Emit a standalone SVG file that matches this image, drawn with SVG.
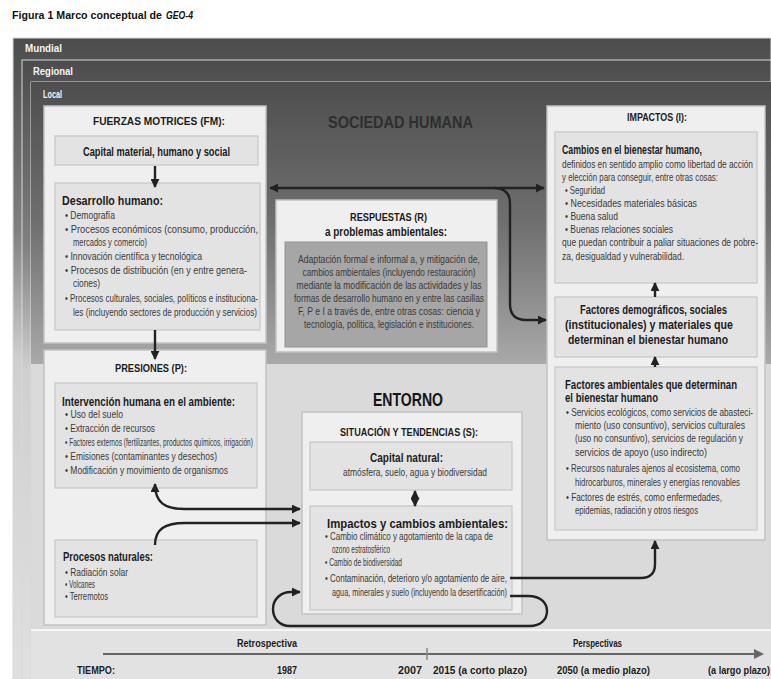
<svg xmlns="http://www.w3.org/2000/svg" width="771" height="679" viewBox="0 0 771 679">
<style>
.t{font-family:"Liberation Sans Narrow","Liberation Sans",Arial,sans-serif;font-size:11px;fill:#3a3a3a}
.b{font-weight:bold;fill:#1c1c1c;font-size:12px}
.w{font-family:"Liberation Sans",Arial,sans-serif;font-weight:bold;font-size:10px;fill:#f4f4f4}
.ob{fill:#efefef;stroke:#c2c2c2;stroke-width:1.5}
.ib{fill:#e3e3e3;stroke:#c6c6c6;stroke-width:1.2}
.rb{fill:#a6a6a6;stroke:#939393;stroke-width:1}
.cn{fill:none;stroke:#222;stroke-width:2.4}
</style>
<defs>
<linearGradient id="gl" x1="0" y1="0" x2="0" y2="1">
<stop offset="0" stop-color="#4c4c4c"/><stop offset="0.3" stop-color="#808080"/><stop offset="0.5" stop-color="#cfcfcf"/><stop offset="1" stop-color="#e0e0e0"/>
</linearGradient>
<linearGradient id="gs" x1="0" y1="0" x2="0" y2="1">
<stop offset="0" stop-color="#4e4e4e"/><stop offset="0.5" stop-color="#6f6f6f"/><stop offset="1" stop-color="#a9a9a9"/>
</linearGradient>
<marker id="ah" viewBox="0 0 10 10" refX="9" refY="5" markerWidth="9" markerHeight="9" markerUnits="userSpaceOnUse" orient="auto-start-reverse">
<path d="M0,0 L10,5 L0,10 z" fill="#222"/>
</marker>
</defs>
<rect width="771" height="679" fill="#ffffff"/>
<text class="t" x="12" y="19" style="font-weight:bold;font-size:10px;fill:#111" textLength="150" lengthAdjust="spacingAndGlyphs">Figura 1 Marco conceptual de</text>
<text class="t" x="166" y="19" style="font-weight:bold;font-style:italic;font-size:10px;fill:#111" textLength="27" lengthAdjust="spacingAndGlyphs">GEO-4</text>

<g id="layers">
<rect x="13" y="38" width="758" height="641" fill="url(#gl)" stroke="#d8d8d8" stroke-width="1"/>
<rect x="22" y="60" width="749" height="619" fill="url(#gl)" stroke="#d8d8d8" stroke-width="1"/>
<rect x="31" y="82" width="740" height="597" fill="#dadada" stroke="#d8d8d8" stroke-width="1"/>
<rect x="31" y="82" width="740" height="282" fill="url(#gs)"/>
<rect x="31" y="630" width="740" height="49" fill="#e2e2e2"/>
<line x1="31" y1="630" x2="771" y2="630" stroke="#f6f6f6" stroke-width="2"/>
<text class="w" x="25" y="52" textLength="37" lengthAdjust="spacingAndGlyphs">Mundial</text>
<text class="w" x="33" y="75" textLength="40" lengthAdjust="spacingAndGlyphs">Regional</text>
<text class="w" x="43" y="98" textLength="19" lengthAdjust="spacingAndGlyphs">Local</text>
<text class="t" x="328" y="128" style="font-weight:bold;font-size:17px;fill:#2e2e2e" textLength="145" lengthAdjust="spacingAndGlyphs">SOCIEDAD HUMANA</text>
<text class="t" x="373" y="406" style="font-weight:bold;font-size:19px;fill:#151515" textLength="70" lengthAdjust="spacingAndGlyphs">ENTORNO</text>
</g>

<g id="fm">
<rect class="ob" x="44" y="106" width="222" height="237"/>
<text class="t b" x="93" y="125" style="font-size:11.5px" textLength="132" lengthAdjust="spacingAndGlyphs">FUERZAS MOTRICES (FM):</text>
<rect class="ib" x="55" y="136" width="203" height="29"/>
<text class="t b" x="83" y="156" textLength="147" lengthAdjust="spacingAndGlyphs">Capital material, humano y social</text>
<rect class="ib" x="55" y="183" width="205" height="147"/>
<text class="t b" x="62" y="205" style="font-size:12.5px" textLength="101" lengthAdjust="spacingAndGlyphs">Desarrollo humano:</text>
<text class="t" x="65" y="219" textLength="50" lengthAdjust="spacingAndGlyphs">• Demografía</text>
<text class="t" x="65" y="233" textLength="193" lengthAdjust="spacingAndGlyphs">• Procesos económicos (consumo, producción,</text>
<text class="t" x="73" y="246" textLength="74" lengthAdjust="spacingAndGlyphs">mercados y comercio)</text>
<text class="t" x="65" y="260" textLength="137" lengthAdjust="spacingAndGlyphs">• Innovación científica y tecnológica</text>
<text class="t" x="65" y="274" textLength="182" lengthAdjust="spacingAndGlyphs">• Procesos de distribución (en y entre genera-</text>
<text class="t" x="73" y="287" textLength="27" lengthAdjust="spacingAndGlyphs">ciones)</text>
<text class="t" x="65" y="302" textLength="193" lengthAdjust="spacingAndGlyphs">• Procesos culturales, sociales, políticos e instituciona-</text>
<text class="t" x="73" y="316" textLength="184" lengthAdjust="spacingAndGlyphs">les (incluyendo sectores de producción y servicios)</text>
</g>

<g id="presiones">
<rect class="ob" x="44" y="350" width="222" height="275"/>
<text class="t b" x="115" y="372" style="font-size:11.5px" textLength="72" lengthAdjust="spacingAndGlyphs">PRESIONES (P):</text>
<rect class="ib" x="55" y="383" width="202" height="105"/>
<text class="t b" x="62" y="406" textLength="173" lengthAdjust="spacingAndGlyphs">Intervención humana en el ambiente:</text>
<text class="t" x="65" y="418" textLength="58" lengthAdjust="spacingAndGlyphs">• Uso del suelo</text>
<text class="t" x="65" y="432" textLength="90" lengthAdjust="spacingAndGlyphs">• Extracción de recursos</text>
<text class="t" x="65" y="446" textLength="188" lengthAdjust="spacingAndGlyphs">• Factores externos (fertilizantes, productos químicos, irrigación)</text>
<text class="t" x="65" y="460" textLength="152" lengthAdjust="spacingAndGlyphs">• Emisiones (contaminantes y desechos)</text>
<text class="t" x="65" y="474" textLength="163" lengthAdjust="spacingAndGlyphs">• Modificación y movimiento de organismos</text>
</g>

<g id="naturales">
<rect class="ib" x="55" y="540" width="202" height="77"/>
<text class="t b" x="63" y="561" textLength="90" lengthAdjust="spacingAndGlyphs">Procesos naturales:</text>
<text class="t" x="65" y="576" textLength="63" lengthAdjust="spacingAndGlyphs">• Radiación solar</text>
<text class="t" x="65" y="588" textLength="30" lengthAdjust="spacingAndGlyphs">• Volcanes</text>
<text class="t" x="65" y="600" textLength="43" lengthAdjust="spacingAndGlyphs">• Terremotos</text>
</g>

<g id="respuestas">
<rect class="ob" x="276" y="200" width="221" height="152"/>
<text class="t b" x="350" y="221" style="font-size:11.5px" textLength="77" lengthAdjust="spacingAndGlyphs">RESPUESTAS (R)</text>
<text class="t b" x="325" y="236" textLength="122" lengthAdjust="spacingAndGlyphs">a problemas ambientales:</text>
<rect class="rb" x="285" y="242" width="202" height="105"/>
<text class="t" x="389" y="263" text-anchor="middle" textLength="182" lengthAdjust="spacingAndGlyphs">Adaptación formal e informal a, y mitigación de,</text>
<text class="t" x="389" y="276" text-anchor="middle" textLength="173" lengthAdjust="spacingAndGlyphs">cambios ambientales (incluyendo restauración)</text>
<text class="t" x="389" y="289" text-anchor="middle" textLength="185" lengthAdjust="spacingAndGlyphs">mediante la modificación de las actividades y las</text>
<text class="t" x="389" y="302" text-anchor="middle" textLength="190" lengthAdjust="spacingAndGlyphs">formas de desarrollo humano en y entre las casillas</text>
<text class="t" x="389" y="315" text-anchor="middle" textLength="182" lengthAdjust="spacingAndGlyphs">F, P e I a través de, entre otras cosas: ciencia y</text>
<text class="t" x="389" y="328" text-anchor="middle" textLength="170" lengthAdjust="spacingAndGlyphs">tecnología, política, legislación e instituciones.</text>
</g>

<g id="impactos">
<rect class="ob" x="547" y="106" width="218" height="434"/>
<text class="t b" x="627" y="121" style="font-size:11.5px" textLength="60" lengthAdjust="spacingAndGlyphs">IMPACTOS (I):</text>
<rect class="ib" x="555" y="132" width="202" height="151"/>
<text class="t b" x="562" y="154" textLength="140" lengthAdjust="spacingAndGlyphs">Cambios en el bienestar humano,</text>
<text class="t" x="562" y="168" textLength="191" lengthAdjust="spacingAndGlyphs">definidos en sentido amplio como libertad de acción</text>
<text class="t" x="562" y="181" textLength="156" lengthAdjust="spacingAndGlyphs">y elección para conseguir, entre otras cosas:</text>
<text class="t" x="565" y="194" textLength="40" lengthAdjust="spacingAndGlyphs">• Seguridad</text>
<text class="t" x="565" y="207" textLength="132" lengthAdjust="spacingAndGlyphs">• Necesidades materiales básicas</text>
<text class="t" x="565" y="220" textLength="53" lengthAdjust="spacingAndGlyphs">• Buena salud</text>
<text class="t" x="565" y="233" textLength="108" lengthAdjust="spacingAndGlyphs">• Buenas relaciones sociales</text>
<text class="t" x="562" y="246" textLength="196" lengthAdjust="spacingAndGlyphs">que puedan contribuir a paliar situaciones de pobre-</text>
<text class="t" x="562" y="260" textLength="122" lengthAdjust="spacingAndGlyphs">za, desigualdad y vulnerabilidad.</text>
</g>

<g id="factores-demograficos">
<rect class="ib" x="555" y="297" width="202" height="60"/>
<text class="t b" x="580" y="314" textLength="147" lengthAdjust="spacingAndGlyphs">Factores demográficos, sociales</text>
<text class="t b" x="565" y="329" textLength="168" lengthAdjust="spacingAndGlyphs">(institucionales) y materiales que</text>
<text class="t b" x="568" y="344" textLength="160" lengthAdjust="spacingAndGlyphs">determinan el bienestar humano</text>
</g>

<g id="factores-ambientales">
<rect class="ib" x="555" y="367" width="202" height="163"/>
<text class="t b" x="565" y="389" textLength="172" lengthAdjust="spacingAndGlyphs">Factores ambientales que determinan</text>
<text class="t b" x="565" y="402" textLength="93" lengthAdjust="spacingAndGlyphs">el bienestar humano</text>
<text class="t" x="566" y="416" textLength="187" lengthAdjust="spacingAndGlyphs">• Servicios ecológicos, como servicios de abasteci-</text>
<text class="t" x="575" y="429" textLength="170" lengthAdjust="spacingAndGlyphs">miento (uso consuntivo), servicios culturales</text>
<text class="t" x="575" y="442" textLength="168" lengthAdjust="spacingAndGlyphs">(uso no consuntivo), servicios de regulación y</text>
<text class="t" x="575" y="456" textLength="132" lengthAdjust="spacingAndGlyphs">servicios de apoyo (uso indirecto)</text>
<text class="t" x="566" y="472" textLength="174" lengthAdjust="spacingAndGlyphs">• Recursos naturales ajenos al ecosistema, como</text>
<text class="t" x="575" y="486" textLength="165" lengthAdjust="spacingAndGlyphs">hidrocarburos, minerales y energías renovables</text>
<text class="t" x="566" y="501" textLength="156" lengthAdjust="spacingAndGlyphs">• Factores de estrés, como enfermedades,</text>
<text class="t" x="575" y="514" textLength="123" lengthAdjust="spacingAndGlyphs">epidemias, radiación y otros riesgos</text>
</g>

<g id="situacion">
<rect class="ob" x="302" y="412" width="220" height="202"/>
<text class="t b" x="340" y="436" style="font-size:11.5px" textLength="138" lengthAdjust="spacingAndGlyphs">SITUACIÓN Y TENDENCIAS (S):</text>
<rect class="ib" x="310" y="442" width="202" height="48"/>
<text class="t b" x="370" y="462" style="font-size:12.5px" textLength="73" lengthAdjust="spacingAndGlyphs">Capital natural:</text>
<text class="t" x="343" y="476" textLength="144" lengthAdjust="spacingAndGlyphs">atmósfera, suelo, agua y biodiversidad</text>
<rect class="ib" x="310" y="506" width="202" height="104"/>
<text class="t b" x="327" y="528" style="font-size:12.5px" textLength="181" lengthAdjust="spacingAndGlyphs">Impactos y cambios ambientales:</text>
<text class="t" x="325" y="540" textLength="168" lengthAdjust="spacingAndGlyphs">• Cambio climático y agotamiento de la capa de</text>
<text class="t" x="332" y="553" textLength="58" lengthAdjust="spacingAndGlyphs">ozono estratosférico</text>
<text class="t" x="325" y="566" textLength="77" lengthAdjust="spacingAndGlyphs">• Cambio de biodiversidad</text>
<text class="t" x="325" y="582" textLength="182" lengthAdjust="spacingAndGlyphs">• Contaminación, deterioro y/o agotamiento de aire,</text>
<text class="t" x="332" y="596" textLength="175" lengthAdjust="spacingAndGlyphs">agua, minerales y suelo (incluyendo la desertificación)</text>
</g>

<g id="timeline">
<line x1="103" y1="654" x2="756" y2="654" stroke="#666" stroke-width="2.2"/>
<path d="M754,649 L764,654 L754,659 z" fill="#666"/>
<line x1="427" y1="648" x2="427" y2="660" stroke="#888" stroke-width="1.5"/>
<text class="t b" x="237" y="647" style="font-size:11px" textLength="60" lengthAdjust="spacingAndGlyphs">Retrospectiva</text>
<text class="t b" x="573" y="647" style="font-size:11px" textLength="49" lengthAdjust="spacingAndGlyphs">Perspectivas</text>
<text class="t b" x="77" y="674" style="font-size:11px" textLength="38" lengthAdjust="spacingAndGlyphs">TIEMPO:</text>
<text class="t b" x="277" y="674" style="font-size:11px" textLength="20" lengthAdjust="spacingAndGlyphs">1987</text>
<text class="t b" x="398" y="674" style="font-size:11px" textLength="24" lengthAdjust="spacingAndGlyphs">2007</text>
<text class="t b" x="433" y="674" style="font-size:11px" textLength="94" lengthAdjust="spacingAndGlyphs">2015 (a corto plazo)</text>
<text class="t b" x="557" y="674" style="font-size:11px" textLength="93" lengthAdjust="spacingAndGlyphs">2050 (a medio plazo)</text>
<text class="t b" x="708" y="674" style="font-size:11px" textLength="62" lengthAdjust="spacingAndGlyphs">(a largo plazo)</text>
</g>

<g id="connectors">
<path class="cn" d="M155,166 L155,187" marker-end="url(#ah)"/>
<path class="cn" d="M155,330 L155,359" marker-end="url(#ah)"/>
<path class="cn" d="M270,188 L544,188" marker-start="url(#ah)" marker-end="url(#ah)"/>
<path class="cn" d="M494,188 Q510,188 510,204 L510,304 Q510,320 526,320 L546,320" marker-end="url(#ah)"/>
<path class="cn" d="M655,297 L655,283" marker-end="url(#ah)"/>
<path class="cn" d="M655,367 L655,357" marker-end="url(#ah)"/>
<path class="cn" d="M415,491 L415,506" marker-start="url(#ah)" marker-end="url(#ah)"/>
<path class="cn" d="M155,484 C155,503 165,509 185,509 L300,509" marker-start="url(#ah)" marker-end="url(#ah)"/>
<path class="cn" d="M155,545 C155,529 165,523 185,523 L300,523" marker-end="url(#ah)"/>
<path class="cn" d="M510,596 L528,596 C542,596 547,604 547,611 C547,620 540,626 530,626 L290,626 C279,626 273,618 273,609 C273,599 281,592 291,592 L300,592" marker-end="url(#ah)"/>
<path class="cn" d="M510,578 L641,578 Q655,578 655,564 L655,541" marker-end="url(#ah)"/>
</g>
</svg>
